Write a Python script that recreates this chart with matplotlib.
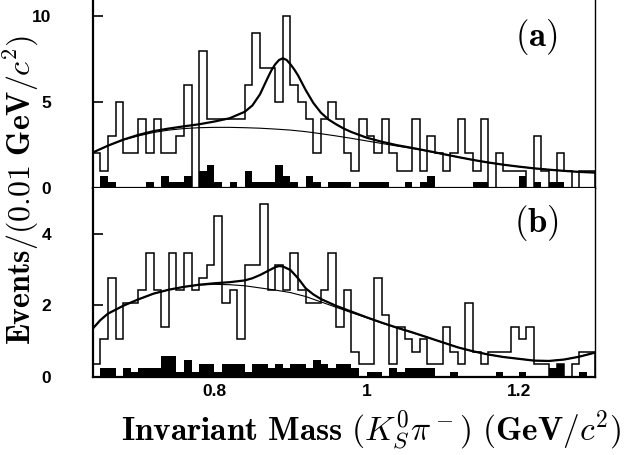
import numpy as np
import matplotlib
matplotlib.use("Agg")
import matplotlib.pyplot as plt

plt.rcParams["mathtext.fontset"] = "cm"

# bin edges: 0.01 GeV bins from 0.64 to 1.30
edges = np.linspace(0.64, 1.30, 67)

# ---- panel (a) ----
a_counts = [2, 1, 3, 5, 2, 2, 4, 2, 4, 2,
            2, 3, 6, 0, 8, 4, 4, 4, 4, 4,
            6, 9, 7, 7, 5, 10, 6, 5, 4, 2,
            4, 5, 4, 2, 1, 4, 3, 2, 4, 2,
            1, 1, 4, 1, 3, 2, 1, 2, 4, 2,
            1, 4, 0, 2, 1, 1, 1, 0, 3, 1,
            0, 2, 1, 0, 1, 1]
a_side = [0, 0.67, 0.33, 0, 0, 0, 0, 0.33, 0, 0.67,
          0.33, 0.33, 0.67, 0, 1.0, 1.33, 0.33, 0, 0.33, 0,
          1.0, 0.33, 0.33, 0.33, 1.33, 0.67, 0.33, 0, 0.67, 0.33,
          0, 0.33, 0.33, 0.33, 0, 0.33, 0.33, 0.33, 0.33, 0,
          0, 0.33, 0, 0.33, 0.67, 0, 0, 0, 0, 0,
          0.33, 0.33, 0, 0, 0, 0, 0.67, 0, 0.33, 0,
          0.33, 0.33, 0, 0, 0, 0]
a_fit_x = [0.64, 0.66, 0.68, 0.70, 0.72, 0.74, 0.76, 0.78, 0.80, 0.82,
           0.84, 0.85, 0.86, 0.87, 0.875, 0.88, 0.885, 0.89, 0.895, 0.90,
           0.905, 0.91, 0.92, 0.93, 0.94, 0.95, 0.96, 0.97, 0.98, 1.00,
           1.02, 1.04, 1.06, 1.08, 1.10, 1.12, 1.14, 1.16, 1.18, 1.20,
           1.22, 1.24, 1.26, 1.28, 1.30]
a_fit_y = [2.05, 2.45, 2.8, 3.08, 3.3, 3.45, 3.58, 3.7, 3.86, 4.05,
           4.43, 4.8, 5.45, 6.4, 6.85, 7.2, 7.45, 7.55, 7.45, 7.2,
           6.9, 6.55, 5.7, 4.95, 4.38, 3.98, 3.7, 3.45, 3.25, 2.92,
           2.68, 2.48, 2.32, 2.15, 1.97, 1.79, 1.62, 1.47, 1.34, 1.23,
           1.13, 1.05, 0.98, 0.92, 0.88]
a_bkg_x = [0.64, 0.66, 0.68, 0.70, 0.72, 0.74, 0.76, 0.78, 0.80, 0.82,
           0.84, 0.86, 0.88, 0.90, 0.92, 0.94, 0.96, 0.98, 1.00, 1.02,
           1.04, 1.06, 1.08, 1.10, 1.12, 1.14, 1.16, 1.18, 1.20, 1.22,
           1.24, 1.26, 1.28, 1.30]
a_bkg_y = [2.05, 2.45, 2.78, 3.02, 3.22, 3.36, 3.45, 3.5, 3.52, 3.52,
           3.5, 3.47, 3.42, 3.36, 3.27, 3.15, 3.02, 2.88, 2.73, 2.58,
           2.43, 2.29, 2.13, 1.96, 1.79, 1.62, 1.47, 1.34, 1.23, 1.13,
           1.05, 0.98, 0.92, 0.88]

# ---- panel (b) ----
b_counts = [0.35, 1.04, 2.76, 1.04, 2.07, 2.07, 2.42, 3.45, 2.42, 1.38,
            3.45, 2.42, 3.45, 2.42, 2.76, 3.11, 4.49, 2.07, 2.42, 1.04,
            3.11, 3.11, 4.83, 2.42, 3.11, 2.42, 3.45, 2.42, 2.07, 2.07,
            2.42, 3.45, 1.38, 2.42, 0.69, 0.35, 0.35, 2.76, 1.73, 0.35,
            1.38, 1.04, 0.69, 1.04, 0.35, 0.35, 1.38, 0.69, 0.35, 2.07,
            0.69, 0.35, 0.69, 0.69, 0.69, 1.38, 1.04, 1.38, 0.35, 0.35,
            0, 0.35, 0, 0.35, 0.69, 0.69]
b_side = [0, 0.23, 0.23, 0, 0.23, 0.12, 0.23, 0.23, 0.23, 0.58,
          0.58, 0.12, 0.46, 0.12, 0.35, 0.35, 0.12, 0.35, 0.35, 0.35,
          0.12, 0.35, 0.35, 0.23, 0.35, 0.23, 0.35, 0.35, 0.23, 0.46,
          0.35, 0.23, 0.35, 0.35, 0.23, 0, 0.12, 0.12, 0, 0.23,
          0.12, 0.23, 0.23, 0.23, 0.23, 0, 0, 0.12, 0, 0,
          0, 0, 0, 0.12, 0, 0, 0.12, 0, 0, 0,
          0.23, 0.35, 0, 0, 0.12, 0]
b_fit_x = [0.64, 0.65, 0.66, 0.68, 0.70, 0.72, 0.74, 0.76, 0.78, 0.80,
           0.82, 0.84, 0.85, 0.86, 0.87, 0.88, 0.885, 0.89, 0.90, 0.91,
           0.92, 0.93, 0.94, 0.96, 0.98, 1.00, 1.02, 1.04, 1.06, 1.08,
           1.10, 1.12, 1.14, 1.16, 1.18, 1.20, 1.22, 1.24, 1.26, 1.28, 1.30]
b_fit_y = [1.34, 1.58, 1.76, 1.98, 2.16, 2.32, 2.43, 2.51, 2.57, 2.61,
           2.64, 2.69, 2.75, 2.84, 2.95, 3.06, 3.09, 3.08, 2.98, 2.75,
           2.47, 2.3, 2.17, 1.98, 1.82, 1.66, 1.51, 1.37, 1.24, 1.1,
           0.96, 0.82, 0.71, 0.62, 0.55, 0.5, 0.45, 0.44, 0.48, 0.56, 0.67]
b_bkg_x = [0.64, 0.65, 0.66, 0.68, 0.70, 0.72, 0.74, 0.76, 0.78, 0.80,
           0.82, 0.84, 0.86, 0.88, 0.90, 0.92, 0.94, 0.96, 0.98, 1.00,
           1.02, 1.04, 1.06, 1.08, 1.10, 1.12, 1.14, 1.16, 1.18, 1.20,
           1.22, 1.24, 1.26, 1.28, 1.30]
b_bkg_y = [1.34, 1.58, 1.76, 1.98, 2.16, 2.32, 2.43, 2.51, 2.56, 2.58,
           2.57, 2.54, 2.48, 2.42, 2.35, 2.24, 2.09, 1.94, 1.79, 1.65,
           1.5, 1.36, 1.23, 1.1, 0.96, 0.82, 0.71, 0.62, 0.55, 0.5,
           0.45, 0.44, 0.48, 0.56, 0.67]

xticks = [0.8, 1.0, 1.2]
xticklabels = ["0.8", "1", "1.2"]

fig = plt.figure(figsize=(6.25, 4.55), dpi=100)
L, W = 0.1483, 0.8032
ax_a = fig.add_axes([L, 0.5875, W, 0.4125])
ax_b = fig.add_axes([L, 0.1721, W, 0.4154])

panels = [
    (ax_a, a_counts, a_side, a_fit_x, a_fit_y, a_bkg_x, a_bkg_y, 10.95, [0, 5, 10], "(a)", 0.919),
    (ax_b, b_counts, b_side, b_fit_x, b_fit_y, b_bkg_x, b_bkg_y, 5.28, [0, 2, 4], "(b)", 0.510),
]
tick_font = dict(family="Liberation Sans", weight="bold", size=12.5)
for ax, cnt, side, fx, fy, bx, by, ytop, yt, tag, ty in panels:
    ax.stairs(side, edges, fill=True, color="black", lw=0)
    ax.stairs(cnt, edges, color="black", lw=1.1)
    ax.plot(bx, by, color="black", lw=0.8)
    ax.plot(fx, fy, color="black", lw=1.6)
    ax.set_xlim(0.64, 1.30)
    ax.set_ylim(0, ytop)
    ax.set_yticks(yt)
    ax.set_yticklabels([str(v) for v in yt], **tick_font)
    ax.tick_params(axis="y", direction="in", length=7, width=1.2, pad=30, left=True, right=False)
    ax.tick_params(axis="x", length=0, pad=5)
    ax.spines["top"].set_visible(False)
    ax.spines["left"].set_linewidth(1.6)
    ax.spines["bottom"].set_linewidth(1.6)
    ax.spines["right"].set_linewidth(1.0)
    fig.text(0.858, ty, r"$\mathbf{" + tag + "}$", fontsize=25, ha="center", va="center")

ax_a.set_xticks([])
ax_b.set_xticks(xticks)
ax_b.set_xticklabels(xticklabels, **tick_font)

fig.text(0.594, 0.055, r"$\mathbf{Invariant\ Mass}\ (K^0_S\pi^-)\ \mathbf{(GeV}/c^2\mathbf{)}$",
         fontsize=24, ha="center", va="center")
fig.text(0.034, 0.582, r"$\mathbf{Events/(0.01\ GeV}/c^2\mathbf{)}$",
         fontsize=23, ha="center", va="center", rotation=90)

fig.savefig("out.png", dpi=100)
